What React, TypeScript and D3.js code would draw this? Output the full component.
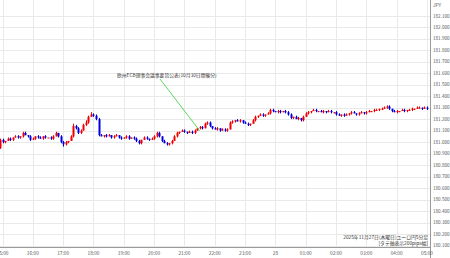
import React from "react";
import * as d3 from "d3";

// 5-minute EUR/JPY closes, 14:55 (Nov 27) .. 05:00 (Nov 28)
const firstOpen = 180.95;
const closes = [
  181.02, 181.0, 181.01, 181.03, 181.02, 181.04, 181.05, 181.04, 181.05, 181.08,
  181.06, 181.05, 181.02, 181.03, 181.05, 181.04, 181.03, 181.05, 181.04, 181.04,
  181.03, 181.05, 181.08, 181.05, 181.0, 180.98, 181.0, 181.01, 181.05, 181.14,
  181.12, 181.08, 181.1, 181.15, 181.17, 181.22, 181.24, 181.23, 181.2, 181.06,
  181.05, 181.06, 181.05, 181.06, 181.04, 181.05, 181.06, 181.04, 181.03, 181.04,
  181.05, 181.03, 181.04, 181.03, 181.01, 180.99, 181.02, 181.04, 181.03, 181.02,
  181.03, 181.05, 181.08, 181.05, 181.01, 180.99, 180.98, 180.99, 181.01, 181.05,
  181.08, 181.09, 181.1, 181.09, 181.08, 181.09, 181.08, 181.1, 181.12, 181.13,
  181.12, 181.16, 181.17, 181.14, 181.12, 181.11, 181.12, 181.1, 181.11, 181.1,
  181.11, 181.17, 181.18, 181.19, 181.18, 181.19, 181.17, 181.16, 181.15, 181.16,
  181.19, 181.22, 181.23, 181.24, 181.23, 181.24, 181.25, 181.28, 181.27, 181.26,
  181.27, 181.26, 181.27, 181.26, 181.24, 181.21, 181.22, 181.2, 181.21, 181.19,
  181.22, 181.25, 181.26, 181.27, 181.28, 181.27, 181.27, 181.26, 181.27, 181.26,
  181.27, 181.26, 181.26, 181.24, 181.23, 181.24, 181.23, 181.24, 181.25, 181.26,
  181.25, 181.24, 181.25, 181.26, 181.25, 181.26, 181.27, 181.27, 181.28, 181.28,
  181.29, 181.29, 181.3, 181.31, 181.29, 181.27, 181.26, 181.27, 181.27, 181.28,
  181.27, 181.28, 181.28, 181.29, 181.29, 181.3, 181.3, 181.29, 181.3, 181.29,
];
// wick extensions in pips beyond the body
const wickUp = [
  1, 1, 0, 1, 1, 0, 1, 1, 0, 1, 1, 0, 1, 1, 0, 1, 1, 0, 1, 0,
  1, 1, 1, 0, 1, 1, 1, 0, 1, 2, 1, 1, 1, 1, 2, 1, 2, 1, 1, 1,
  1, 0, 1, 1, 0, 1, 1, 0, 1, 0, 1, 1, 0, 1, 1, 1, 0, 1, 1, 0,
  1, 1, 1, 1, 0, 1, 1, 0, 1, 1, 1, 0, 1, 1, 0, 1, 1, 1, 0, 1,
  1, 1, 1, 1, 0, 1, 1, 0, 1, 1, 1, 1, 1, 0, 1, 1, 0, 1, 1, 0,
  1, 1, 0, 1, 1, 0, 1, 1, 1, 0, 1, 1, 0, 1, 1, 1, 0, 1, 1, 0,
  1, 1, 1, 0, 1, 1, 0, 1, 1, 0, 1, 1, 0, 1, 1, 0, 1, 1, 0, 1,
  1, 0, 1, 1, 0, 1, 1, 0, 1, 1, 0, 1, 1, 1, 1, 0, 1, 1, 0, 1,
  1, 0, 1, 1, 0, 1, 1, 0, 1, 1,
];
const wickDown = [
  1, 1, 1, 0, 1, 1, 0, 1, 1, 1, 0, 1, 1, 0, 1, 1, 0, 1, 1, 0,
  1, 1, 0, 1, 1, 2, 1, 1, 0, 1, 1, 1, 1, 0, 1, 1, 0, 1, 1, 1,
  0, 1, 1, 0, 1, 1, 0, 1, 1, 0, 1, 1, 0, 1, 1, 1, 1, 0, 1, 1,
  0, 1, 1, 1, 1, 0, 1, 1, 1, 0, 1, 1, 0, 1, 1, 0, 1, 1, 0, 1,
  1, 0, 1, 1, 1, 0, 1, 1, 0, 1, 1, 0, 1, 1, 0, 1, 1, 0, 1, 1,
  0, 1, 1, 0, 1, 1, 0, 1, 1, 0, 1, 1, 0, 1, 1, 1, 1, 0, 1, 1,
  1, 0, 1, 1, 0, 1, 1, 0, 1, 1, 0, 1, 1, 1, 0, 1, 1, 0, 1, 1,
  0, 1, 1, 0, 1, 1, 0, 1, 1, 0, 1, 1, 0, 1, 1, 1, 0, 1, 1, 0,
  1, 1, 0, 1, 1, 0, 1, 1, 0, 1,
];

const priceTicks = [
  180.1, 180.2, 180.3, 180.4, 180.5, 180.6, 180.7, 180.8, 180.9, 181.0,
  181.1, 181.2, 181.3, 181.4, 181.5, 181.6, 181.7, 181.8, 181.9, 182.0, 182.1,
];
const hourLabels = [
  "15:00", "16:00", "17:00", "18:00", "19:00", "20:00", "21:00", "22:00",
  "23:00", "28", "01:00", "02:00", "03:00", "04:00", "05:00",
];
const eventLabel = "欧州ECB理事会議事要旨公表(10月30日開催分)";
const eventTime = new Date(2025, 10, 27, 21, 30);
const eventPrice = 181.1;
const titleLines = ["2025年11月27日(木曜日)ユーロ円5分足", "[タテ軸表示200pips幅]"];

const W = 450;
const H = 258;
const axisX = 430.5;
const axisY = 247.5;
const FONT = "'Noto Sans CJK JP', 'Noto Sans', sans-serif";

export default function App() {
  const start = new Date(2025, 10, 27, 14, 55).getTime();
  const candleTimes = closes.map((_, i) => new Date(start + i * 5 * 60000));
  const hourTimes = hourLabels.map((_, i) => new Date(2025, 10, 27, 15 + i, 0));

  const x = d3
    .scaleTime()
    .domain([new Date(2025, 10, 27, 15, 0), new Date(2025, 10, 28, 5, 0)])
    .range([2.5, 427]);
  const y = d3.scaleLinear().domain([180.1, 182.1]).range([245.5, 15.7]);

  const pip = 0.01;
  const candles = closes.map((c, i) => {
    const o = i === 0 ? firstOpen : closes[i - 1];
    const up = c >= o;
    const hi = Math.max(o, c) + wickUp[i] * pip;
    const lo = Math.min(o, c) - wickDown[i] * pip;
    return { t: candleTimes[i], o, c, hi, lo, up };
  });

  const ex = x(eventTime);
  const ey = y(eventPrice);

  return (
    <svg
      width={W}
      height={H}
      style={{ position: "absolute", left: 0, top: 0, background: "#fff" }}
      fontFamily={FONT}
    >
      <rect x={0} y={0} width={W} height={H} fill="#fff" />
      {/* horizontal grid */}
      {priceTicks.map((p) => (
        <line
          key={"h" + p}
          x1={0}
          x2={axisX}
          y1={Math.round(y(p)) + 0.5}
          y2={Math.round(y(p)) + 0.5}
          stroke="#e9e9e9"
          strokeWidth={1}
        />
      ))}
      {/* vertical grid */}
      {hourTimes.map((t, i) => (
        <line
          key={"v" + i}
          x1={Math.round(x(t)) + 0.5}
          x2={Math.round(x(t)) + 0.5}
          y1={0}
          y2={axisY}
          stroke="#e9e9e9"
          strokeWidth={1}
        />
      ))}
      {/* candles */}
      {candles.map((d, i) => {
        const cx = Math.round(x(d.t));
        const col = d.up ? "#f00000" : "#0000e0";
        const yTop = y(Math.max(d.o, d.c));
        const yBot = y(Math.min(d.o, d.c));
        return (
          <g key={"c" + i}>
            <line x1={cx + 0.5} x2={cx + 0.5} y1={y(d.hi)} y2={y(d.lo)} stroke={col} strokeWidth={1} />
            <rect x={cx - 0.5} y={yTop} width={2} height={Math.max(1, yBot - yTop)} fill={col} />
          </g>
        );
      })}
      {/* event annotation */}
      <line x1={160} y1={79} x2={ex} y2={ey} stroke="#33cc33" strokeWidth={0.8} />
      <text x={117} y={76.5} fontSize={4.8} fill="#333">
        {eventLabel}
      </text>
      {/* axes */}
      <line x1={axisX} x2={axisX} y1={0} y2={H} stroke="#999" strokeWidth={1} />
      <line x1={0} x2={axisX} y1={axisY} y2={axisY} stroke="#999" strokeWidth={1} />
      <text x={433} y={7} fontSize={4.8} fill="#555">
        JPY
      </text>
      {priceTicks.map((p) => (
        <text key={"pt" + p} x={433} y={y(p) + 1.8} fontSize={4.6} fill="#555">
          {p.toFixed(3)}
        </text>
      ))}
      {hourTimes.map((t, i) => (
        <text key={"ht" + i} x={x(t)} y={254.5} fontSize={4.8} fill="#555" textAnchor="middle">
          {hourLabels[i]}
        </text>
      ))}
      {titleLines.map((s, i) => (
        <text key={"tl" + i} x={428} y={238.5 + i * 6} fontSize={4.8} fill="#333" textAnchor="end">
          {s}
        </text>
      ))}
    </svg>
  );
}
